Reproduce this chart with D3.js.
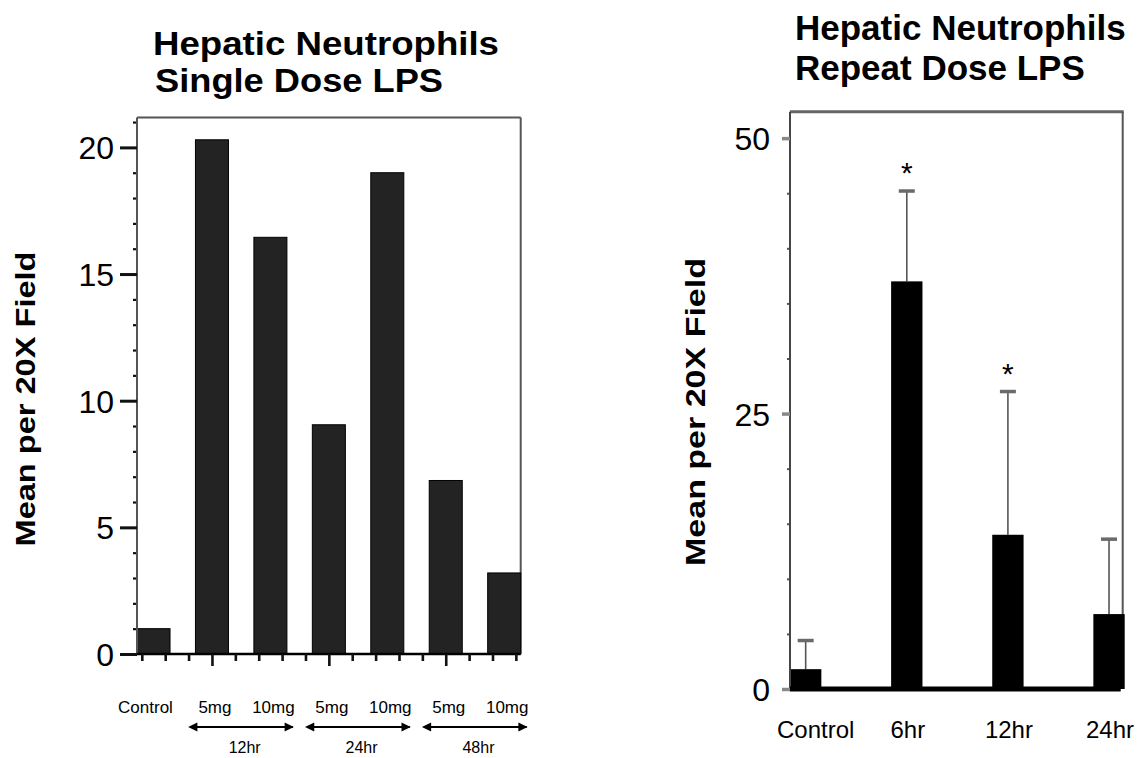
<!DOCTYPE html>
<html>
<head>
<meta charset="utf-8">
<script src="https://cdn.jsdelivr.net/npm/d3@7"></script>
<style>
  html, body { margin: 0; padding: 0; background: #fff; }
  svg { display: block; font-family: "Liberation Sans", Arial, Helvetica, sans-serif; }
</style>
</head>
<body>
<svg id="fig" width="1140" height="758"></svg>
<script>
// Single dose LPS: hepatic neutrophil counts
const singleCats = ["Control", "5mg 12hr", "10mg 12hr", "5mg 24hr", "10mg 24hr", "5mg 48hr", "10mg 48hr"];
const singleLabels = ["Control", "5mg", "10mg", "5mg", "10mg", "5mg", "10mg"];
const singleValues = [1.0, 20.3, 16.45, 9.05, 19.0, 6.85, 3.2];
const singleGroups = ["12hr", "24hr", "48hr"];
const singleTicks = [0, 5, 10, 15, 20];

// Repeat dose LPS: hepatic neutrophil counts with error
const repeatCats = ["Control", "6hr", "12hr", "24hr"];
const repeatValues = [1.8, 37.0, 14.0, 6.8];
const repeatErrors = [2.6, 8.2, 13.0, 6.8];
const repeatSig = [false, true, true, false];
const repeatTicks = [0, 25, 50];

const svg = d3.select("#fig");

// ---------- Left panel ----------
{
  const L = 137, R = 520.7, T = 117.5, B = 654;
  const g = svg.append("g");
  const y = d3.scaleLinear().domain([0, 21.18]).range([B, T]);
  const x = d3.scaleBand().domain(singleCats).range([L, R]).paddingInner(0.435).paddingOuter(0);

  // frame
  g.append("line").attr("x1", L).attr("x2", R).attr("y1", T).attr("y2", T).attr("stroke", "#555").attr("stroke-width", 2);
  g.append("line").attr("x1", R).attr("x2", R).attr("y1", T).attr("y2", B).attr("stroke", "#555").attr("stroke-width", 2);

  // bars
  g.selectAll("rect.bar").data(singleValues).join("rect")
    .attr("class", "bar")
    .attr("x", (d, i) => x(singleCats[i]))
    .attr("width", x.bandwidth())
    .attr("y", d => y(d))
    .attr("height", d => B - y(d))
    .attr("fill", "#232323").attr("stroke", "#000").attr("stroke-width", 1);

  // y axis: minor ticks
  const minor = d3.range(0, 22).filter(v => v % 5 !== 0);
  g.append("g").attr("transform", `translate(${L},0)`)
    .call(d3.axisLeft(y).tickValues(minor).tickSize(4).tickFormat(""))
    .call(a => a.select(".domain").remove())
    .call(a => a.selectAll("line").attr("stroke", "#111").attr("stroke-width", 2.2));
  // y axis: major ticks
  g.append("g").attr("transform", `translate(${L},0)`)
    .call(d3.axisLeft(y).tickValues(singleTicks).tickSize(17).tickPadding(6).tickFormat(d3.format("d")))
    .call(a => a.select(".domain").attr("stroke", "#555").attr("stroke-width", 2).attr("d", `M0,${B}V${T}`))
    .call(a => a.selectAll("line").attr("stroke", "#111").attr("stroke-width", 3))
    .call(a => a.selectAll("text").attr("font-size", 32).attr("fill", "#000").attr("dy", "0.36em"));

  // x axis with tick marks between and under bars
  const c = i => x(singleCats[i]) + x.bandwidth() / 2;
  const xt = d3.scaleLinear().domain([0, 5]).range([c(1), c(3)]);
  const tks = d3.range(-3, 14);
  g.append("g").attr("transform", `translate(0,${B})`)
    .call(d3.axisBottom(xt).tickValues(tks).tickSize(7).tickFormat(""))
    .call(a => a.select(".domain").attr("stroke", "#000").attr("stroke-width", 2.5).attr("d", `M${L},0H${R}`))
    .call(a => a.selectAll(".tick line").attr("stroke", "#111").attr("stroke-width", 2.6)
      .attr("y2", d => (d % 5 === 0 ? 12 : 7)));

  // category labels
  g.selectAll("text.cat").data(singleLabels).join("text")
    .attr("class", "cat")
    .attr("x", (d, i) => c(i) + (i === 0 ? -8 : 3))
    .attr("y", 713)
    .attr("text-anchor", "middle").attr("font-size", 17).text(d => d);

  // time groups with double-headed arrows
  const defs = svg.append("defs");
  ["s", "e"].forEach(k => {
    defs.append("marker").attr("id", "ah-" + k)
      .attr("viewBox", "0 0 10 10").attr("refX", k === "e" ? 9 : 1).attr("refY", 5)
      .attr("markerWidth", 5).attr("markerHeight", 4.2).attr("markerUnits", "strokeWidth")
      .attr("orient", k === "e" ? "auto" : "auto-start-reverse")
      .append("path").attr("d", "M0,0L10,5L0,10Z").attr("fill", "#000");
  });
  singleGroups.forEach((lab, k) => {
    const i0 = 1 + 2 * k;
    const x0 = x(singleCats[i0]) + 1, x1 = x(singleCats[i0 + 1]) + x.bandwidth() + 6;
    g.append("line").attr("x1", x0).attr("x2", x1).attr("y1", 727).attr("y2", 727)
      .attr("stroke", "#000").attr("stroke-width", 2.2)
      .attr("marker-start", "url(#ah-s)").attr("marker-end", "url(#ah-e)");
    g.append("text").attr("x", (x0 + x1) / 2).attr("y", 753)
      .attr("text-anchor", "middle").attr("font-size", 16).text(lab);
  });

  // title
  g.append("text").attr("x", 153).attr("y", 55).attr("font-size", 33).attr("font-weight", "bold")
    .attr("textLength", 346).attr("lengthAdjust", "spacingAndGlyphs").text("Hepatic Neutrophils");
  g.append("text").attr("x", 155).attr("y", 92).attr("font-size", 33).attr("font-weight", "bold")
    .attr("textLength", 288).attr("lengthAdjust", "spacingAndGlyphs").text("Single Dose LPS");

  // y label
  g.append("text").attr("transform", "translate(35,399) rotate(-90)")
    .attr("text-anchor", "middle").attr("font-size", 27).attr("font-weight", "bold")
    .attr("textLength", 295).attr("lengthAdjust", "spacingAndGlyphs").text("Mean per 20X Field");
}

// ---------- Right panel ----------
{
  const L = 790, R = 1122.7, T = 111.7, B = 689;
  const g = svg.append("g");
  const y = d3.scaleLinear().domain([0, 52.4]).range([B, T]);
  const x = d3.scaleBand().domain(repeatCats).range([L, R + 2]).paddingInner(0.69).paddingOuter(0);

  // frame
  g.append("line").attr("x1", L).attr("x2", R + 1).attr("y1", T).attr("y2", T).attr("stroke", "#666").attr("stroke-width", 3);
  g.append("line").attr("x1", R).attr("x2", R).attr("y1", T).attr("y2", B).attr("stroke", "#555").attr("stroke-width", 2);

  // error bars
  const cx = i => x(repeatCats[i]) + x.bandwidth() / 2;
  g.selectAll("line.err").data(repeatValues).join("line")
    .attr("class", "err")
    .attr("x1", (d, i) => cx(i)).attr("x2", (d, i) => cx(i))
    .attr("y1", d => y(d)).attr("y2", (d, i) => y(d + repeatErrors[i]))
    .attr("stroke", "#555").attr("stroke-width", 1.6);
  g.selectAll("line.cap").data(repeatValues).join("line")
    .attr("class", "cap")
    .attr("x1", (d, i) => cx(i) - 8).attr("x2", (d, i) => cx(i) + 8)
    .attr("y1", (d, i) => y(d + repeatErrors[i])).attr("y2", (d, i) => y(d + repeatErrors[i]))
    .attr("stroke", "#6a6a6a").attr("stroke-width", 3.5);

  // bars
  g.selectAll("rect.bar").data(repeatValues).join("rect")
    .attr("class", "bar")
    .attr("x", (d, i) => x(repeatCats[i]))
    .attr("width", x.bandwidth())
    .attr("y", d => y(d))
    .attr("height", d => B - y(d))
    .attr("fill", "#000");

  // significance markers
  g.selectAll("text.sig").data(repeatValues).join("text")
    .attr("class", "sig")
    .attr("x", (d, i) => cx(i))
    .attr("y", (d, i) => y(d + repeatErrors[i]) - 8)
    .attr("text-anchor", "middle").attr("font-size", 30)
    .text((d, i) => repeatSig[i] ? "*" : "");

  // y axis
  const minor = d3.range(5, 50, 5).filter(v => v % 25 !== 0);
  g.append("g").attr("transform", `translate(${L},0)`)
    .call(d3.axisLeft(y).tickValues(minor).tickSize(3).tickFormat(""))
    .call(a => a.select(".domain").remove())
    .call(a => a.selectAll("line").attr("stroke", "#555").attr("stroke-width", 2));
  g.append("g").attr("transform", `translate(${L},0)`)
    .call(d3.axisLeft(y).tickValues(repeatTicks).tickSize(8).tickPadding(12).tickFormat(d3.format("d")))
    .call(a => a.select(".domain").attr("stroke", "#444").attr("stroke-width", 2).attr("d", `M0,${B}V${T}`))
    .call(a => a.selectAll("line").attr("stroke", "#888").attr("stroke-width", 3.5))
    .call(a => a.selectAll("text").attr("font-size", 32).attr("fill", "#000").attr("dy", "0.36em"));

  // x axis
  g.append("g").attr("transform", `translate(0,${B})`)
    .call(d3.axisBottom(x).tickSize(0).tickPadding(32))
    .call(a => a.select(".domain").attr("stroke", "#000").attr("stroke-width", 5).attr("d", `M${L},0H${R - 2}`))
    .call(a => a.selectAll("text").attr("font-size", 24).attr("fill", "#000")
      .attr("dx", d => d === "Control" ? 10 : 1));

  // title
  g.append("text").attr("x", 795).attr("y", 40).attr("font-size", 35).attr("font-weight", "bold").text("Hepatic Neutrophils");
  g.append("text").attr("x", 795).attr("y", 80).attr("font-size", 35).attr("font-weight", "bold").text("Repeat Dose LPS");

  // y label
  g.append("text").attr("transform", "translate(705,412) rotate(-90)")
    .attr("text-anchor", "middle").attr("font-size", 27).attr("font-weight", "bold")
    .attr("textLength", 308).attr("lengthAdjust", "spacingAndGlyphs").text("Mean per 20X Field");
}
</script>
</body>
</html>
